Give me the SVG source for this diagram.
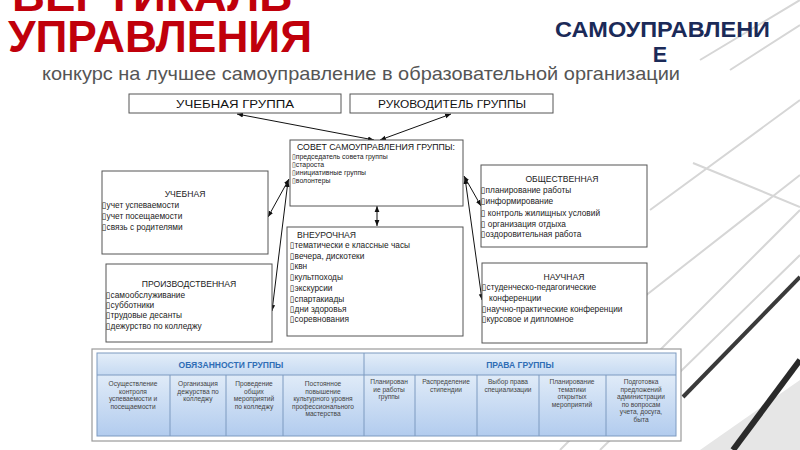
<svg xmlns="http://www.w3.org/2000/svg" width="800" height="450" viewBox="0 0 800 450">
<defs>
<style>
.t{font-family:"Liberation Sans",Arial,sans-serif}
.box{fill:#fff;stroke:#555;stroke-width:1}
.bt{font-family:"Liberation Sans",Arial,sans-serif;font-size:8.6px;fill:#222}
.it{font-family:"Liberation Sans","DejaVu Sans",sans-serif;font-size:8.3px;fill:#222}
.ci{font-family:"Liberation Sans","DejaVu Sans",sans-serif;font-size:6.9px;fill:#222}
.tc{font-family:"Liberation Sans",Arial,sans-serif;font-size:6.6px;fill:#444;text-anchor:middle}
.th{font-family:"Liberation Sans",Arial,sans-serif;font-size:8.5px;font-weight:bold;fill:#2f6db5;text-anchor:middle}
.con{stroke:#111;stroke-width:1;fill:none;marker-start:url(#ah);marker-end:url(#ah)}
.grid{stroke:#7d9ac0;stroke-width:1;fill:none}
.bg{stroke:#d6d6d6;fill:none}
</style>
<marker id="ah" viewBox="0 0 10 10" refX="10" refY="5" markerWidth="6" markerHeight="6" orient="auto-start-reverse" markerUnits="userSpaceOnUse"><path d="M0,1 L10,5 L0,9 z" fill="#111"/></marker>
<linearGradient id="gh" x1="0" y1="0" x2="0" y2="1"><stop offset="0" stop-color="#e4eef9"/><stop offset="1" stop-color="#c6daf2"/></linearGradient>
<linearGradient id="gb" x1="0" y1="0" x2="0" y2="1"><stop offset="0" stop-color="#e0ebf8"/><stop offset="1" stop-color="#b2ccee"/></linearGradient>
</defs>
<rect width="800" height="450" fill="#fff"/>
<g id="background">
<path class="bg" d="M560,450 L800,210 M600,450 L800,255 M640,300 L800,175 M693,163 L800,207 M650,210 L800,100 M700,60 L800,0 M730,70 L800,25" stroke-width="2"/>
<path d="M700,450 L800,380 L800,450 Z" fill="#e6e6e6"/>
<path d="M683,397 L800,277" stroke="#3a3a3a" stroke-width="4"/>
<path d="M733,450 L800,360" stroke="#2a2a2a" stroke-width="6"/>
</g>
<g id="title">
<text class="t" x="12" y="11" font-size="44" font-weight="bold" fill="#c0000b" textLength="280" lengthAdjust="spacingAndGlyphs">ВЕРТИКАЛЬ</text>
<text class="t" x="8" y="52" font-size="44" font-weight="bold" fill="#c0000b" textLength="304" lengthAdjust="spacingAndGlyphs">УПРАВЛЕНИЯ</text>
<text class="t" x="555" y="37" font-size="21.5" font-weight="bold" fill="#1b2a58" textLength="215" lengthAdjust="spacingAndGlyphs">САМОУПРАВЛЕНИ</text>
<text class="t" x="660" y="62" font-size="21.5" font-weight="bold" fill="#1b2a58" text-anchor="middle">Е</text>
<text class="t" x="42" y="80" font-size="19" fill="#555" textLength="638" lengthAdjust="spacingAndGlyphs">конкурс  на лучшее самоуправление в образовательной организации</text>
</g>
<g id="connectors">
<line class="con" x1="237" y1="114" x2="374" y2="140"/>
<line class="con" x1="451" y1="114" x2="380" y2="140"/>
<line class="con" x1="377" y1="206" x2="377" y2="226"/>
<line class="con" x1="289" y1="179" x2="268" y2="217"/>
<line class="con" x1="288" y1="181" x2="272" y2="311"/>
<line class="con" x1="464" y1="176" x2="481" y2="206"/>
<line class="con" x1="465" y1="178" x2="482" y2="300"/>
</g>
<g id="n-group">
<rect class="box" x="129" y="94" width="212" height="19"/>
<text class="t" x="235" y="108" font-size="11" fill="#111" text-anchor="middle" textLength="118" lengthAdjust="spacingAndGlyphs">УЧЕБНАЯ ГРУППА</text>
</g>
<g id="n-leader">
<rect class="box" x="350" y="94" width="203" height="19"/>
<text class="t" x="452" y="108" font-size="11" fill="#111" text-anchor="middle" textLength="148" lengthAdjust="spacingAndGlyphs">РУКОВОДИТЕЛЬ ГРУППЫ</text>
</g>
<g id="n-council">
<rect class="box" x="290" y="140" width="173" height="66"/>
<text class="t" x="297" y="150" font-size="9" fill="#111" textLength="158" lengthAdjust="spacingAndGlyphs">СОВЕТ САМОУПРАВЛЕНИЯ ГРУППЫ:</text>
<text class="ci" x="292" y="159">▯председатель совета группы</text>
<text class="ci" x="292" y="167">▯староста</text>
<text class="ci" x="292" y="175">▯инициативные группы</text>
<text class="ci" x="292" y="183">▯волонтеры</text>
</g>
<g id="n-study">
<rect class="box" x="102" y="171" width="166" height="83"/>
<text class="bt" x="185" y="197" text-anchor="middle">УЧЕБНАЯ</text>
<text class="it" x="102" y="208">▯учет успеваемости</text>
<text class="it" x="102" y="219">▯учет посещаемости</text>
<text class="it" x="102" y="230">▯связь с родителями</text>
</g>
<g id="n-social">
<rect class="box" x="481" y="165" width="166" height="82"/>
<text class="bt" x="562" y="182" text-anchor="middle">ОБЩЕСТВЕННАЯ</text>
<text class="it" x="481" y="193">▯планирование работы</text>
<text class="it" x="481" y="204">▯информирование</text>
<text class="it" x="481" y="216">▯ контроль жилищных условий</text>
<text class="it" x="481" y="227">▯ организация отдыха</text>
<text class="it" x="481" y="237">▯оздоровительная работа</text>
</g>
<g id="n-extra">
<rect class="box" x="287" y="227" width="176" height="109"/>
<text class="bt" x="297" y="238">ВНЕУРОЧНАЯ</text>
<text class="it" x="290" y="248">▯тематически е классные часы</text>
<text class="it" x="290" y="259">▯вечера, дискотеки</text>
<text class="it" x="290" y="269">▯квн</text>
<text class="it" x="290" y="280">▯культпоходы</text>
<text class="it" x="290" y="291">▯экскурсии</text>
<text class="it" x="290" y="302">▯спартакиады</text>
<text class="it" x="290" y="312">▯дни здоровья</text>
<text class="it" x="290" y="322">▯соревнования</text>
</g>
<g id="n-production">
<rect class="box" x="106" y="264" width="166" height="78"/>
<text class="bt" x="189" y="287" text-anchor="middle">ПРОИЗВОДСТВЕННАЯ</text>
<text class="it" x="106" y="298">▯самообслуживание</text>
<text class="it" x="106" y="308">▯субботники</text>
<text class="it" x="106" y="318">▯трудовые десанты</text>
<text class="it" x="106" y="329">▯дежурство по колледжу</text>
</g>
<g id="n-science">
<rect class="box" x="482" y="263" width="165" height="80"/>
<text class="bt" x="564" y="280" text-anchor="middle">НАУЧНАЯ</text>
<text class="it" x="482" y="290">▯студенческо-педагогические</text>
<text class="it" x="489" y="301">конференции</text>
<text class="it" x="482" y="312">▯научно-практические конференции</text>
<text class="it" x="482" y="322">▯курсовое и дипломное</text>
</g>
<g id="n-table">
<rect x="92" y="349" width="589" height="92" fill="#fff" stroke="#9a9a9a" stroke-width="1.2"/>
<rect x="97" y="353" width="579" height="22" fill="url(#gh)"/>
<rect x="97" y="375" width="579" height="61" fill="url(#gb)"/>
<rect class="grid" x="97" y="353" width="579" height="83"/>
<path class="grid" d="M97,375 H676 M364,353 V436 M170,375 V436 M226,375 V436 M283,375 V436 M415,375 V436 M477,375 V436 M539,375 V436 M606,375 V436"/>
<text class="th" x="231" y="368">ОБЯЗАННОСТИ ГРУППЫ</text>
<text class="th" x="520" y="368">ПРАВА ГРУППЫ</text>
<text class="tc" y="386"><tspan x="133">Осуществление</tspan><tspan x="133" dy="7.6">контроля</tspan><tspan x="133" dy="7.6">успеваемости и</tspan><tspan x="133" dy="7.6">посещаемости</tspan></text>
<text class="tc" y="386"><tspan x="198">Организация</tspan><tspan x="198" dy="7.6">дежурства по</tspan><tspan x="198" dy="7.6">колледжу</tspan></text>
<text class="tc" y="386"><tspan x="254">Проведение</tspan><tspan x="254" dy="7.6">общих</tspan><tspan x="254" dy="7.6">мероприятий</tspan><tspan x="254" dy="7.6">по колледжу</tspan></text>
<text class="tc" y="386"><tspan x="323">Постоянное</tspan><tspan x="323" dy="7.6">повышение</tspan><tspan x="323" dy="7.6">культурного уровня</tspan><tspan x="323" dy="7.6">профессионального</tspan><tspan x="323" dy="7.6">мастерства</tspan></text>
<text class="tc" y="384"><tspan x="389">Планирован</tspan><tspan x="389" dy="7.6">ие работы</tspan><tspan x="389" dy="7.6">группы</tspan></text>
<text class="tc" y="384"><tspan x="446">Распределение</tspan><tspan x="446" dy="7.6">стипендии</tspan></text>
<text class="tc" y="384"><tspan x="508">Выбор права</tspan><tspan x="508" dy="7.6">специализации</tspan></text>
<text class="tc" y="384"><tspan x="572">Планирование</tspan><tspan x="572" dy="7.6">тематики</tspan><tspan x="572" dy="7.6">открытых</tspan><tspan x="572" dy="7.6">мероприятий</tspan></text>
<text class="tc" y="384"><tspan x="641">Подготовка</tspan><tspan x="641" dy="7.6">предложений</tspan><tspan x="641" dy="7.6">администрации</tspan><tspan x="641" dy="7.6">по вопросам</tspan><tspan x="641" dy="7.6">учета, досуга,</tspan><tspan x="641" dy="7.6">быта</tspan></text>
</g>
</svg>
